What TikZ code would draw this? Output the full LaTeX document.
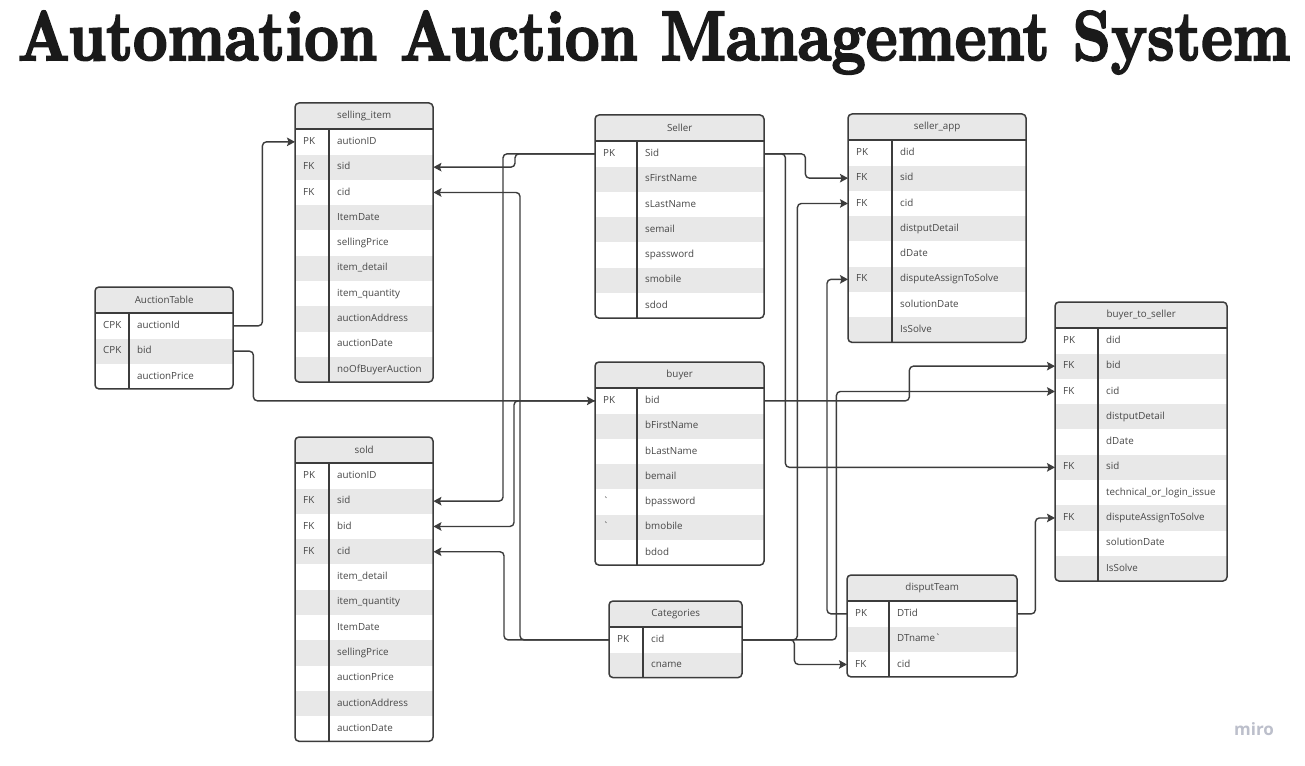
\documentclass[tikz,border=0pt]{standalone}
\usepackage{fontspec}
\usepackage{graphicx}
\usepackage{tikz}
\usetikzlibrary{arrows.meta}
\newfontfamily\tabfont{Open Sans}
\newfontfamily\titlefont{lmroman10-bold.otf}[FakeBold=3]
\definecolor{rowgray}{HTML}{E8E8E8}
\definecolor{linegray}{HTML}{3C3C3C}
\definecolor{textgray}{HTML}{474747}
\definecolor{titleblack}{HTML}{1A1A1A}
\definecolor{mirogray}{HTML}{BCBFCB}
\newcommand{\headh}{26}
\newcommand{\rowh}{25.3}
\tikzset{
  tabhead/.style={
    rectangle,
    fill=rowgray,
    inner sep=0pt,
    minimum height=\headh,
    text=textgray,
    font=\tabfont\fontsize{9.8}{11}\selectfont
  },
  tabrow/.style={
    rectangle,
    inner sep=0pt,
    minimum height=\rowh
  },
  celltext/.style={
    anchor=west,
    inner sep=0pt,
    text height=7.2pt,
    text depth=2pt,
    text=textgray,
    font=\tabfont\fontsize{9.8}{11}\selectfont
  },
  tabline/.style={
    draw=linegray,
    line width=1.5pt
  },
  fk/.style={
    -{Stealth[length=8pt,width=8.5pt,inset=1.5pt]},
    draw=linegray,
    line width=1.4pt,
    rounded corners=4pt
  }
}
% name, left, top, width, key width, rows, title, key/field list
\newcommand{\ertable}[8]{%
  \pgfmathsetmacro{\tabbot}{#3+\headh+#6*\rowh}
  \begin{scope}
    \clip[rounded corners=4pt] (#2,#3) rectangle ({#2+#4},\tabbot);
    \node[tabhead, minimum width=#4, anchor=north west] (#1) at (#2,#3) {#7};
    \foreach \k/\f [count=\i] in {#8} {
      \ifodd\i \def\rowfill{white}\else \def\rowfill{rowgray}\fi
      \node[tabrow, fill=\rowfill, minimum width=#4, anchor=north west]
        (#1-\i) at (#2,{#3+\headh+(\i-1)*\rowh}) {};
      \node[celltext] at ([xshift=8pt]#1-\i.west) {\k};
      \node[celltext] at ([xshift=#5+8]#1-\i.west) {\f};
    }
  \end{scope}
  \draw[tabline] (#2,{#3+\headh}) -- ({#2+#4},{#3+\headh});
  \draw[tabline] ({#2+#5},{#3+\headh}) -- ({#2+#5},\tabbot);
  \draw[tabline, rounded corners=4pt] (#2,#3) rectangle ({#2+#4},\tabbot);
}

\begin{document}
\begin{tikzpicture}[x=1pt,y=-1pt]
\fill[white] (0,0) rectangle (1305,765);
\useasboundingbox (0,0) rectangle (1305,765);

\node[anchor=base, inner sep=0pt, text=titleblack] (title) at (654,60)
  {\resizebox{1272pt}{49pt}{\titlefont Automation Auction Management System}};

\ertable{sellitem}{295}{103}{138}{34}{10}{selling\_item}{PK/autionID, FK/sid, FK/cid, /ItemDate, /sellingPrice, /item\_detail, /item\_quantity, /auctionAddress, /auctionDate, /noOfBuyerAuction}
\ertable{auction}{95}{287}{138}{34}{3}{AuctionTable}{CPK/auctionId, CPK/bid, /auctionPrice}
\ertable{sold}{295}{437}{138}{34}{11}{sold}{PK/autionID, FK/sid, FK/bid, FK/cid, /item\_detail, /item\_quantity, /ItemDate, /sellingPrice, /auctionPrice, /auctionAddress, /auctionDate}
\ertable{seller}{595}{115}{169}{42}{7}{Seller}{PK/Sid, /sFirstName, /sLastName, /semail, /spassword, /smobile, /sdod}
\ertable{buyer}{595}{362}{169}{42}{7}{buyer}{PK/bid, /bFirstName, /bLastName, /bemail, \textasciigrave/bpassword, \textasciigrave/bmobile, /bdod}
\ertable{sellapp}{848}{114}{178}{44}{8}{seller\_app}{PK/did, FK/sid, FK/cid, /distputDetail, /dDate, FK/disputeAssignToSolve, /solutionDate, /IsSolve}
\ertable{buyseller}{1055}{302}{172}{43}{10}{buyer\_to\_seller}{PK/did, FK/bid, FK/cid, /distputDetail, /dDate, FK/sid, /technical\_or\_login\_issue, FK/disputeAssignToSolve, /solutionDate, /IsSolve}
\ertable{categ}{609}{601}{133}{34}{2}{Categories}{PK/cid, /cname}
\ertable{dteam}{847}{575}{170}{42}{3}{disputTeam}{PK/DTid, /DTname\textasciigrave, FK/cid}

\draw[fk] (auction-1.east) -- ++(29,0) |- (sellitem-1.west);
\draw[fk] (auction-2.east) -- ++(20,0) |- (buyer-1.west);
\draw[fk] (seller-1.west) -- ++(-80,0) |- (sellitem-2.east);
\draw[fk] (seller-1.west) -- ++(-92,0) |- (sold-2.east);
\draw[fk] (categ-1.west) -- ++(-89,0) |- (sellitem-3.east);
\draw[fk] (categ-1.west) -- ++(-105,0) |- (sold-4.east);
\draw[fk] (buyer-1.west) -- ++(-81,0) |- (sold-3.east);
\draw[fk] (seller-1.east) -- ++(41,0) |- (sellapp-2.west);
\draw[fk] (seller-1.east) -- ++(21,0) |- (buyseller-6.west);
\draw[fk] (categ-1.east) -- ++(55,0) |- (sellapp-3.west);
\draw[fk] (categ-1.east) -- ++(52,0) |- (dteam-3.west);
\draw[fk] (categ-1.east) -- ++(94,0) |- (buyseller-3.west);
\draw[fk] (buyer-1.east) -- ++(145,0) |- (buyseller-2.west);
\draw[fk] (dteam-1.west) -- ++(-20,0) |- (sellapp-6.west);
\draw[fk] (dteam-1.east) -- ++(18,0) |- (buyseller-8.west);

\node[text=mirogray, font=\tabfont\bfseries\fontsize{17}{17}\selectfont] (miro) at (1254,729) {miro};
\end{tikzpicture}
\end{document}
